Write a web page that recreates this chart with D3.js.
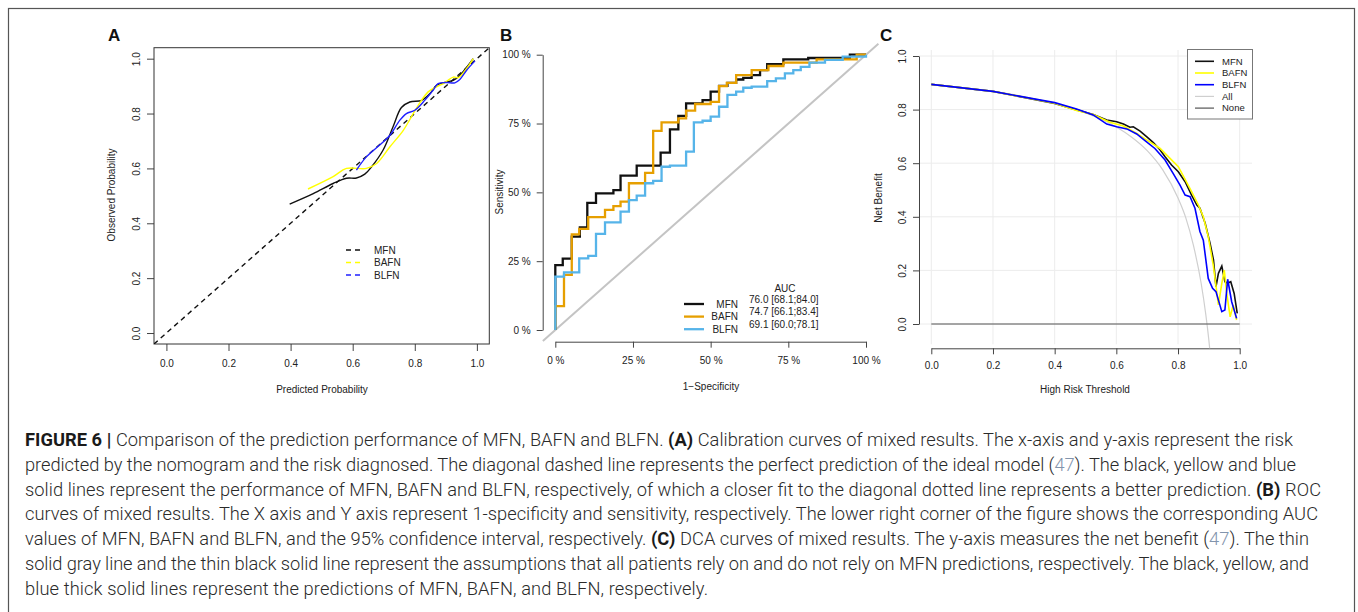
<!DOCTYPE html>
<html lang="en">
<head>
<meta charset="UTF-8" />
<title>Figure 6</title>
<script src="https://d3js.org/d3.v7.min.js"></script>
<style>
  body { margin: 0; background: #fff; }
  svg { display: block; }
  .ax text { font-family: "Liberation Sans", Arial, sans-serif; font-size: 10px; fill: #222; }
  .ax line, .ax path { stroke: #444; }
  .lbl { font-family: "Liberation Sans", Arial, sans-serif; font-size: 10px; fill: #222; }
  .panel { font-family: "Liberation Sans", Arial, sans-serif; font-size: 17px; font-weight: bold; fill: #111; }
  .cap { font-family: Roboto, "Liberation Sans", sans-serif; font-weight: 300; fill: #2a2a2a; }
</style>
</head>
<body>
<svg id="fig" width="1358" height="612"></svg>
<script>
// ---- A: calibration curves
const calMfnX = [0.397,0.473,0.537,0.580,0.612,0.639,0.661,0.698,0.730,0.757,0.784,0.822,0.849,0.870,0.902,0.924,0.945,0.988];
const calMfnY = [0.470,0.508,0.545,0.564,0.565,0.579,0.606,0.667,0.752,0.822,0.842,0.848,0.873,0.903,0.915,0.921,0.939,1.000];
const calBafnX = [0.456,0.537,0.580,0.644,0.677,0.720,0.763,0.789,0.811,0.843,0.870,0.892,0.924,0.940,0.967,0.988];
const calBafnY = [0.525,0.570,0.600,0.600,0.618,0.679,0.739,0.788,0.830,0.879,0.897,0.909,0.933,0.931,0.964,1.000];
const calBlfnX = [0.612,0.644,0.687,0.720,0.752,0.773,0.800,0.832,0.859,0.875,0.902,0.929,0.945,0.967,0.994];
const calBlfnY = [0.594,0.642,0.685,0.721,0.776,0.800,0.812,0.848,0.885,0.909,0.913,0.912,0.924,0.958,0.992];
const probTicks = [0, 0.2, 0.4, 0.6, 0.8, 1.0];
const refLine = [-0.04, 1.04];

// ---- B: ROC curves (1-specificity, sensitivity)
const rocMfnX = [0,0,0.024,0.053,0.079,0.103,0.131,0.187,0.210,0.262,0.339,0.369,0.396,0.421,0.474,0.5,0.527,0.554,0.582,0.605,0.632,0.659,0.682,0.734,0.814,0.948,1.0];
const rocMfnY = [0,0.236,0.259,0.339,0.373,0.462,0.496,0.508,0.561,0.597,0.644,0.729,0.778,0.823,0.835,0.866,0.887,0.898,0.910,0.916,0.926,0.944,0.966,0.983,0.988,1.0,1.0];
const rocBafnX = [0,0,0.028,0.053,0.077,0.106,0.160,0.187,0.210,0.237,0.289,0.315,0.342,0.396,0.421,0.450,0.5,0.527,0.552,0.582,0.632,0.686,0.734,0.841,0.970,1.0];
const rocBafnY = [0,0.087,0.2,0.347,0.367,0.41,0.436,0.450,0.466,0.533,0.571,0.723,0.754,0.769,0.797,0.821,0.829,0.886,0.898,0.926,0.944,0.959,0.971,0.983,1.0,1.0];
const rocBlfnX = [0,0,0.028,0.077,0.106,0.131,0.160,0.210,0.237,0.262,0.289,0.315,0.342,0.369,0.421,0.446,0.474,0.5,0.527,0.554,0.582,0.605,0.632,0.682,0.710,0.739,0.766,0.790,0.818,0.868,0.925,1.0];
const rocBlfnY = [0,0.194,0.209,0.260,0.269,0.349,0.391,0.430,0.472,0.488,0.533,0.542,0.593,0.597,0.648,0.754,0.760,0.775,0.811,0.854,0.866,0.880,0.884,0.904,0.914,0.932,0.944,0.956,0.971,0.981,0.993,1.0];
const rocTicks = [0, 0.25, 0.5, 0.75, 1];
const rocNames = ["MFN", "BAFN", "BLFN"];
const rocAuc = ["76.0 [68.1;84.0]", "74.7 [66.1;83.4]", "69.1 [60.0;78.1]"];

// ---- C: decision curves (threshold, net benefit)
const dcaMfnX = [0,0.2,0.4,0.471,0.525,0.569,0.601,0.623,0.644,0.655,0.677,0.698,0.720,0.742,0.758,0.779,0.801,0.823,0.844,0.861,0.871,0.888,0.904,0.915,0.923,0.931,0.942,0.952,0.961,0.971,0.982,0.992];
const dcaMfnY = [0.894,0.868,0.823,0.799,0.782,0.761,0.755,0.746,0.734,0.736,0.720,0.699,0.677,0.649,0.624,0.593,0.568,0.531,0.481,0.444,0.432,0.376,0.301,0.239,0.139,0.189,0.216,0.158,0.152,0.158,0.114,0.040];
const dcaBafnX = [0,0.2,0.4,0.471,0.525,0.579,0.623,0.666,0.698,0.742,0.774,0.801,0.823,0.844,0.866,0.882,0.898,0.915,0.931,0.942,0.950,0.958,0.969,0.979,0.990];
const dcaBafnY = [0.894,0.868,0.824,0.797,0.782,0.753,0.739,0.711,0.687,0.655,0.618,0.587,0.540,0.494,0.444,0.400,0.326,0.214,0.071,0.152,0.201,0.114,0.027,0.071,0.015];
const dcaBlfnX = [0,0.2,0.4,0.471,0.525,0.569,0.601,0.634,0.666,0.698,0.725,0.758,0.785,0.806,0.823,0.839,0.855,0.871,0.882,0.898,0.912,0.923,0.942,0.952,0.961,0.974,0.990];
const dcaBlfnY = [0.894,0.868,0.826,0.802,0.780,0.746,0.736,0.728,0.709,0.680,0.655,0.612,0.560,0.519,0.481,0.475,0.432,0.345,0.313,0.170,0.133,0.121,0.046,0.052,0.167,0.083,0.021];
const dcaAllX = [0,0.1,0.2,0.3,0.4,0.5,0.55,0.6,0.65,0.7,0.75,0.8,0.825,0.85,0.875,0.89,0.9,0.91];
const dcaAllY = [0.894,0.882,0.868,0.849,0.823,0.788,0.765,0.735,0.697,0.647,0.576,0.470,0.397,0.293,0.152,0.036,-0.060,-0.178];
const dcaNoneX = [0, 1.0];
const dcaNoneY = [0, 0];
const dcaNames = ["MFN", "BAFN", "BLFN", "All", "None"];
const dcaColors = ["#111", "#ffff00", "#0000ff", "#cfcfcf", "#555"];
const dcaWidths = [1.6, 1.6, 1.6, 1.2, 1.2];
const dcaYTicks = [0, 0.2, 0.4, 0.6, 0.8, 1.0];

const svg = d3.select('#fig');
const zip = (xs, ys) => xs.map((x, i) => [x, ys[i]]);

// outer frame
svg.append('rect').attr('x', 8.5).attr('y', 8.5).attr('width', 1346).attr('height', 640)
  .attr('fill', 'none').attr('stroke', '#555').attr('stroke-width', 1.2);

function rotY(g, off) {
  g.selectAll('.tick text').attr('x', 0).attr('y', 0).attr('dy', '0.35em')
    .attr('text-anchor', 'middle').attr('transform', `translate(${-off},0) rotate(-90)`);
}

// ================= Panel A =================
{
  const x = d3.scaleLinear().domain(refLine).range([154, 489.3]);
  const y = d3.scaleLinear().domain(refLine).range([344, 47.7]);
  const fmt = d3.format('.1f');
  const gx = svg.append('g').attr('class', 'ax').attr('transform', 'translate(0,344)')
    .call(d3.axisBottom(x).tickValues(probTicks).tickFormat(fmt).tickSize(7).tickPadding(9));
  gx.select('.domain').remove();
  const gy = svg.append('g').attr('class', 'ax').attr('transform', 'translate(154,0)')
    .call(d3.axisLeft(y).tickValues(probTicks).tickFormat(fmt).tickSize(7));
  gy.select('.domain').remove();
  rotY(gy, 18);
  svg.append('rect').attr('x', 154).attr('y', 47.7).attr('width', 335.3).attr('height', 296.3)
    .attr('fill', 'none').attr('stroke', '#333').attr('stroke-width', 1);

  svg.append('clipPath').attr('id', 'clipA').append('rect')
    .attr('x', 154).attr('y', 47.7).attr('width', 335.3).attr('height', 296.3);
  const gA = svg.append('g').attr('clip-path', 'url(#clipA)');
  gA.append('line').attr('x1', x(refLine[0])).attr('y1', y(refLine[0]))
    .attr('x2', x(refLine[1])).attr('y2', y(refLine[1]))
    .attr('stroke', '#111').attr('stroke-width', 1.4).attr('stroke-dasharray', '5,4');
  const line = d3.line().x(d => x(d[0])).y(d => y(d[1])).curve(d3.curveCatmullRom.alpha(0.5));
  [[calMfnX, calMfnY, '#111'], [calBafnX, calBafnY, '#ffff00'], [calBlfnX, calBlfnY, '#2020ff']]
    .forEach(([xs, ys, c]) => gA.append('path').attr('d', line(zip(xs, ys)))
      .attr('fill', 'none').attr('stroke', c).attr('stroke-width', 1.4));

  // legend
  const lg = [['MFN', '#111'], ['BAFN', '#ffff00'], ['BLFN', '#2020ff']];
  lg.forEach(([n, c], i) => {
    const yy = 250 + i * 12.5;
    svg.append('line').attr('x1', 346).attr('x2', 362).attr('y1', yy).attr('y2', yy)
      .attr('stroke', c).attr('stroke-width', 1.4).attr('stroke-dasharray', '5,4');
    svg.append('text').attr('class', 'lbl').attr('x', 374).attr('y', yy).attr('dy', '0.35em').text(n);
  });

  svg.append('text').attr('class', 'lbl').attr('x', 322).attr('y', 389).attr('dy', '0.35em')
    .attr('text-anchor', 'middle').text('Predicted Probability');
  svg.append('text').attr('class', 'lbl').attr('transform', 'translate(111,195) rotate(-90)')
    .attr('dy', '0.35em').attr('text-anchor', 'middle').text('Observed Probability');
  svg.append('text').attr('class', 'panel').attr('x', 108).attr('y', 41).text('A');
}

// ================= Panel B =================
{
  const x = d3.scaleLinear().domain([0, 1]).range([555.3, 866]);
  const y = d3.scaleLinear().domain([0, 1]).range([330, 54.7]);
  const pct = d => `${Math.round(d * 100)} %`;
  svg.append('g').attr('class', 'ax').attr('transform', 'translate(0,341.7)')
    .call(d3.axisBottom(x).tickValues(rocTicks).tickFormat(pct).tickSize(6).tickSizeOuter(0).tickPadding(9));
  svg.append('g').attr('class', 'ax').attr('transform', 'translate(542.7,0)')
    .call(d3.axisLeft(y).tickValues(rocTicks).tickFormat(pct).tickSize(6).tickSizeOuter(0).tickPadding(6));

  svg.append('line').attr('x1', x(refLine[0])).attr('y1', y(refLine[0]))
    .attr('x2', x(refLine[1])).attr('y2', y(refLine[1]))
    .attr('stroke', '#c4c4c4').attr('stroke-width', 2);

  const line = d3.line().x(d => x(d[0])).y(d => y(d[1])).curve(d3.curveStepAfter);
  const cols = ['#111', '#e69f00', '#56b4e9'];
  [[rocMfnX, rocMfnY], [rocBafnX, rocBafnY], [rocBlfnX, rocBlfnY]].forEach(([xs, ys], i) =>
    svg.append('path').attr('d', line(zip(xs, ys))).attr('fill', 'none')
      .attr('stroke', cols[i]).attr('stroke-width', 2.3));

  svg.append('text').attr('class', 'lbl').attr('x', 785).attr('y', 288).attr('dy', '0.35em')
    .attr('text-anchor', 'middle').text('AUC');
  rocNames.forEach((n, i) => {
    const yy = 304 + i * 12.6;
    svg.append('line').attr('x1', 684).attr('x2', 704).attr('y1', yy).attr('y2', yy)
      .attr('stroke', cols[i]).attr('stroke-width', 2.3);
    svg.append('text').attr('class', 'lbl').attr('x', 738).attr('y', yy).attr('dy', '0.35em')
      .attr('text-anchor', 'end').text(n);
    svg.append('text').attr('class', 'lbl').attr('x', 749).attr('y', yy - 5).attr('dy', '0.35em').text(rocAuc[i]);
  });

  svg.append('text').attr('class', 'lbl').attr('x', 711).attr('y', 386).attr('dy', '0.35em')
    .attr('text-anchor', 'middle').text('1\u2212Specificity');
  svg.append('text').attr('class', 'lbl').attr('transform', 'translate(499,192) rotate(-90)')
    .attr('dy', '0.35em').attr('text-anchor', 'middle').text('Sensitivity');
  svg.append('text').attr('class', 'panel').attr('x', 500).attr('y', 41).text('B');
}

// ================= Panel C =================
{
  const x = d3.scaleLinear().domain([0, 1]).range([931.3, 1239.7]);
  const y = d3.scaleLinear().domain([0, 1]).range([324, 56]);
  const fmt = d3.format('.1f');
  const x0 = 919, x1 = 1252, y0 = 44, y1 = 348.3;

  const grid = svg.append('g');
  probTicks.forEach(t => {
    grid.append('line').attr('x1', x(t)).attr('x2', x(t)).attr('y1', y0 + 6).attr('y2', y1 - 4)
      .attr('stroke', '#ececec').attr('stroke-width', 1);
  });
  dcaYTicks.forEach(t => {
    grid.append('line').attr('x1', x0).attr('x2', x1).attr('y1', y(t)).attr('y2', y(t))
      .attr('stroke', '#ececec').attr('stroke-width', 1);
  });

  svg.append('g').attr('class', 'ax').attr('transform', `translate(0,${y1})`)
    .call(d3.axisBottom(x).tickValues(probTicks).tickFormat(fmt).tickSize(6).tickSizeOuter(0).tickPadding(8))
    .selectAll('line, path').attr('stroke', '#666');
  const gy = svg.append('g').attr('class', 'ax').attr('transform', `translate(${x0},0)`)
    .call(d3.axisLeft(y).tickValues(dcaYTicks).tickFormat(fmt).tickSize(6).tickSizeOuter(0));
  gy.selectAll('line, path').attr('stroke', '#666');
  rotY(gy, 17);

  svg.append('clipPath').attr('id', 'clipC').append('rect')
    .attr('x', x0).attr('y', y0).attr('width', x1 - x0).attr('height', y1 - y0);
  const gC = svg.append('g').attr('clip-path', 'url(#clipC)');
  const line = d3.line().x(d => x(d[0])).y(d => y(d[1]));
  const allLine = d3.line().x(d => x(d[0])).y(d => y(d[1])).curve(d3.curveMonotoneX);
  const series = [[dcaMfnX, dcaMfnY], [dcaBafnX, dcaBafnY], [dcaBlfnX, dcaBlfnY], [dcaAllX, dcaAllY], [dcaNoneX, dcaNoneY]];
  [3, 4, 0, 1, 2].forEach(i => {
    const [xs, ys] = series[i];
    gC.append('path').attr('d', (i === 3 ? allLine : line)(zip(xs, ys))).attr('fill', 'none')
      .attr('stroke', dcaColors[i]).attr('stroke-width', dcaWidths[i]);
  });

  // legend
  svg.append('rect').attr('x', 1187.5).attr('y', 49.5).attr('width', 65).attr('height', 69.5)
    .attr('fill', '#fff').attr('stroke', '#777').attr('stroke-width', 1);
  dcaNames.forEach((n, i) => {
    const yy = 61.3 + i * 11.7;
    svg.append('line').attr('x1', 1195).attr('x2', 1214).attr('y1', yy).attr('y2', yy)
      .attr('stroke', dcaColors[i]).attr('stroke-width', i < 3 ? 1.6 : 1.2);
    svg.append('text').attr('class', 'lbl').attr('x', 1222).attr('y', yy).attr('dy', '0.35em')
      .style('font-size', '9.5px').text(n);
  });

  svg.append('text').attr('class', 'lbl').attr('x', 1085).attr('y', 389).attr('dy', '0.35em')
    .attr('text-anchor', 'middle').text('High Risk Threshold');
  svg.append('text').attr('class', 'lbl').attr('transform', 'translate(878,198) rotate(-90)')
    .attr('dy', '0.35em').attr('text-anchor', 'middle').text('Net Benefit');
  svg.append('text').attr('class', 'panel').attr('x', 880).attr('y', 41).text('C');
}

// ================= Caption =================
const capLines = [
  [['b', 'FIGURE 6 | '], ['', 'Comparison of the prediction performance of MFN, BAFN and BLFN. '], ['b', '(A)'], ['', ' Calibration curves of mixed results. The x-axis and y-axis represent the risk']],
  [['', 'predicted by the nomogram and the risk diagnosed. The diagonal dashed line represents the perfect prediction of the ideal model ('], ['l', '47'], ['', '). The black, yellow and blue']],
  [['', 'solid lines represent the performance of MFN, BAFN and BLFN, respectively, of which a closer fit to the diagonal dotted line represents a better prediction. '], ['b', '(B)'], ['', ' ROC']],
  [['', 'curves of mixed results. The X axis and Y axis represent 1-specificity and sensitivity, respectively. The lower right corner of the figure shows the corresponding AUC']],
  [['', 'values of MFN, BAFN and BLFN, and the 95% confidence interval, respectively. '], ['b', '(C)'], ['', ' DCA curves of mixed results. The y-axis measures the net benefit ('], ['l', '47'], ['', '). The thin']],
  [['', 'solid gray line and the thin black solid line represent the assumptions that all patients rely on and do not rely on MFN predictions, respectively. The black, yellow, and']],
  [['', 'blue thick solid lines represent the predictions of MFN, BAFN, and BLFN, respectively.']]
];
const capEnds = [1293, 1296, 1321, 1318, 1309, 1309, 708];
const capX = 25, capY0 = 440, capStep = 24.7;

const capG = svg.append('g');
const texts = capLines.map((segs, i) => {
  const t = capG.append('text').attr('class', 'cap').attr('x', capX).attr('y', capY0 + i * capStep)
    .attr('dy', '0.35em').style('font-size', '16px');
  segs.forEach(([k, s]) => {
    const sp = t.append('tspan').text(s);
    if (k === 'b') sp.style('font-weight', 'bold').style('fill', '#1a1a1a');
    if (k === 'l') sp.style('fill', '#8294ad');
  });
  return t;
});
// fit font size to all lines together, then stretch each line to its measured width
const natSum = d3.sum(texts, t => t.node().getComputedTextLength());
const tgtSum = d3.sum(capEnds, e => e - capX);
const fs = 16 * tgtSum / natSum;
texts.forEach((t, i) => {
  t.style('font-size', fs.toFixed(2) + 'px')
    .attr('textLength', capEnds[i] - capX).attr('lengthAdjust', 'spacing');
});
</script>
</body>
</html>
